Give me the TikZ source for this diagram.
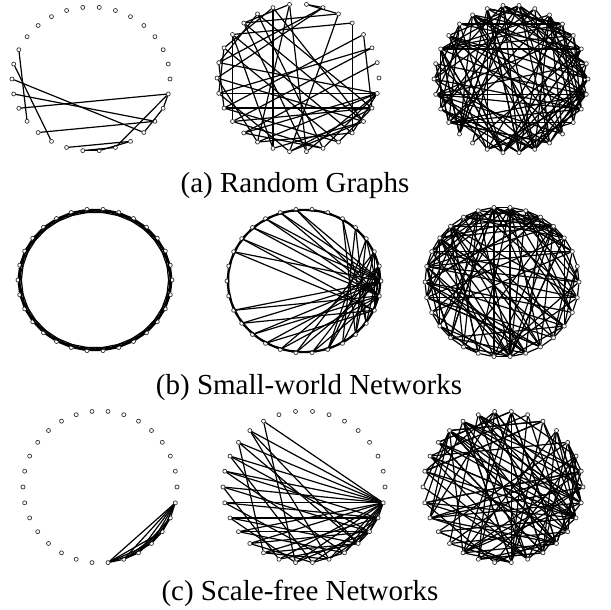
\documentclass[tikz,border=0pt]{standalone}
\usepackage{fontspec}
\setmainfont{Liberation Serif}

\begin{document}
\begin{tikzpicture}[
  x=1pt, y=1pt,
  vtx/.style={circle, draw=black!80, fill=white, line width=0.7pt, inner sep=0pt, minimum size=4pt},
  edge/.style={line width=1.2pt, black},
  caption/.style={font=\fontsize{29}{32}\selectfont, anchor=base},
]
  \useasboundingbox (0,0) rectangle (611,-610);

  \foreach \p/\cx/\cy/\rx/\ry in {a1/91/79/79/72, a2/298/78/81/74, a3/511/79/77/74,
      b1/95/280/77/71, b2/304/281/77/72, b3/502/282/77/75,
      c1/100/487/77/76, c2/304/487/81/76, c3/503/487/80/76}
    \foreach \k in {0,...,29}
      \node[vtx] (\p-\k) at ({\cx+\rx*cos(\k*12)}, {-\cy+\ry*sin(\k*12)}) {};

  \foreach \i/\j in {13/18, 14/20, 15/26, 16/27, 17/29, 19/27, 21/25, 22/23, 22/24,
      23/25, 24/29, 28/29, 26/28}
    \draw[edge] (a1-\i) -- (a1-\j);

  \foreach \i/\j in {6/7, 5/7, 4/26, 3/28, 9/21, 5/11, 5/22, 16/29, 12/18, 10/28, 11/27,
      19/29, 20/29, 1/19, 2/18, 8/11, 8/23, 6/15, 10/24, 12/26, 13/25, 14/17, 13/16,
      15/27, 17/28, 18/24, 20/26, 21/27, 22/28, 23/29, 24/29, 25/28, 14/29, 11/23,
      9/13, 10/14, 12/21, 15/20, 16/22, 17/25, 19/24, 3/17, 6/14, 8/20, 26/29, 22/27,
      2/16, 9/27, 4/12, 18/28}
    \draw[edge] (a2-\i) -- (a2-\j);

  \pgfmathsetseed{7}
  \foreach \e in {1,...,125} {
    \pgfmathtruncatemacro\i{random(0,29)}
    \pgfmathtruncatemacro\j{mod(\i+random(4,26),30)}
    \draw[edge] (a3-\i) -- (a3-\j);
  }

  \foreach \k in {0,...,29} {
    \pgfmathtruncatemacro\m{mod(\k+1,30)}
    \pgfmathtruncatemacro\n{mod(\k+2,30)}
    \pgfmathtruncatemacro\o{mod(\k+3,30)}
    \draw[edge] (b1-\k) -- (b1-\m) (b1-\k) -- (b1-\n) (b1-\k) -- (b1-\o);
    \draw[edge] (b2-\k) -- (b2-\m) (b2-\k) -- (b2-\n);
    \draw[edge] (b3-\k) -- (b3-\m);
  }

  \foreach \i/\j in {8/29, 9/0, 10/29, 11/0, 12/28, 13/0, 9/29, 11/29, 17/29, 18/0,
      19/29, 20/28, 20/0, 21/29, 22/0, 23/1, 21/1, 19/0, 18/28, 22/2, 23/29, 24/1,
      24/2, 25/1, 10/0, 12/29, 8/0, 17/0, 13/28, 5/26, 4/25, 4/27, 3/26, 3/24, 5/27,
      2/26, 1/27, 2/28, 3/29, 1/28}
    \draw[edge] (b2-\i) -- (b2-\j);

  \pgfmathsetseed{23}
  \foreach \e in {1,...,110} {
    \pgfmathtruncatemacro\i{random(0,29)}
    \pgfmathtruncatemacro\j{mod(\i+random(3,27),30)}
    \draw[edge] (b3-\i) -- (b3-\j);
  }

  \foreach \i/\j in {29/23, 29/24, 29/25, 29/26, 29/27, 29/28, 23/24, 23/25, 23/26,
      23/27, 24/26, 24/27, 25/27, 25/28, 26/28, 27/28, 26/27, 24/25}
    \draw[edge] (c1-\i) -- (c1-\j);

  \foreach \i/\j in {10/29, 10/22, 11/29, 11/24, 12/29, 12/26, 12/20, 13/29, 13/23,
      14/28, 14/25, 14/29, 15/29, 15/27, 15/21, 16/29, 16/24, 16/28, 17/28, 17/26,
      17/22, 18/29, 18/25, 19/29, 19/27, 20/28, 20/24, 21/29, 21/26, 22/29, 22/27,
      23/28, 23/25, 24/29, 24/27, 25/29, 25/28, 26/29, 26/27, 27/29, 27/28, 28/29,
      13/27, 11/26, 18/27, 19/23, 20/26}
    \draw[edge] (c2-\i) -- (c2-\j);

  \pgfmathsetseed{41}
  \foreach \e in {1,...,60} {
    \pgfmathtruncatemacro\i{random(0,29)}
    \pgfmathtruncatemacro\j{mod(\i+random(4,26),30)}
    \draw[edge] (c3-\i) -- (c3-\j);
  }
  \foreach \e in {1,...,50} {
    \pgfmathtruncatemacro\i{random(1,21)}
    \pgfmathtruncatemacro\j{mod(random(23,31),30)}
    \draw[edge] (c3-\i) -- (c3-\j);
  }

  \node[caption] (capa) at (295,-192) {(a) Random Graphs};
  \node[caption] (capb) at (309,-394) {(b) Small-world Networks};
  \node[caption] (capc) at (300,-600) {(c) Scale-free Networks};
\end{tikzpicture}
\end{document}
